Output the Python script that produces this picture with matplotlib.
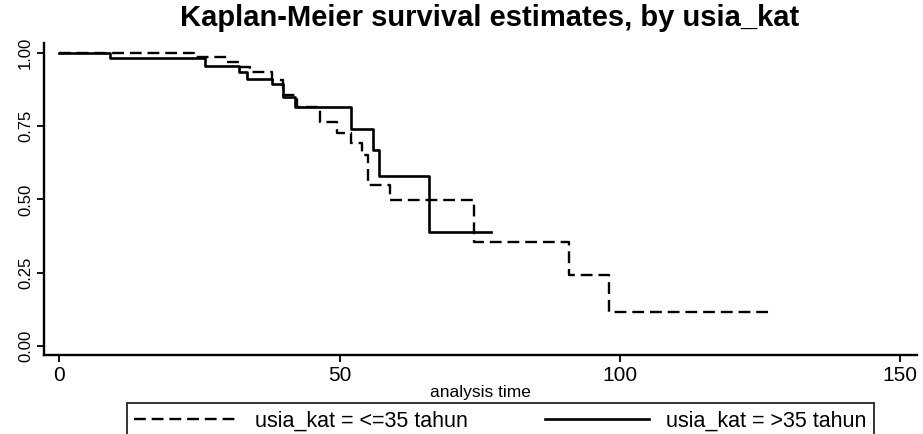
import matplotlib
matplotlib.use("Agg")
import matplotlib.pyplot as plt

plt.rcParams['font.family'] = ['Liberation Sans', 'DejaVu Sans']

title = "Kaplan-Meier survival estimates, by usia_kat"
xlabel = "analysis time"
labels = ["usia_kat = <=35 tahun", "usia_kat = >35 tahun"]

# group <=35 tahun (dashed)
t_young = [0, 24, 30, 32, 34, 38, 40, 42.5, 46.5, 49.5, 52, 54, 55, 59, 74, 91, 98, 127]
s_young = [1.0, 0.985, 0.97, 0.952, 0.935, 0.908, 0.857, 0.816, 0.765, 0.727, 0.693, 0.65, 0.55,
           0.498, 0.355, 0.242, 0.116, 0.116]

# group >35 tahun (solid)
t_old = [0, 9, 26, 32, 33.5, 38, 40, 42, 52, 56, 57, 66, 77]
s_old = [1.0, 0.983, 0.957, 0.935, 0.91, 0.895, 0.85, 0.816, 0.74, 0.67, 0.58, 0.389, 0.389]

xticks = [0, 50, 100, 150]
yticks = [0.0, 0.25, 0.5, 0.75, 1.0]
yticklabels = ["0.00", "0.25", "0.50", "0.75", "1.00"]

fig = plt.figure(figsize=(9.23, 4.34), dpi=100)
ax = fig.add_axes([0.0477, 0.182, 0.9458, 0.719])

l1, = ax.step(t_young, s_young, where='post', color='black', lw=1.7, linestyle=(0, (5, 2.5)))
l2, = ax.step(t_old, s_old, where='post', color='black', lw=1.9, linestyle='-')

ax.set_xlim(-2.7, 153)
ax.set_ylim(-0.031, 1.034)
ax.set_xticks(xticks)
ax.set_xticklabels([str(v) for v in xticks], fontsize=15)
ax.set_yticks(yticks)
ax.set_yticklabels(yticklabels, fontsize=12, rotation=90, va='center')
ax.tick_params(direction='out', length=5, width=1.3, colors='black', pad=3)
for side in ['top', 'right']:
    ax.spines[side].set_visible(False)
for side in ['left', 'bottom']:
    ax.spines[side].set_linewidth(1.7)
ax.set_xlabel(xlabel, fontsize=12.5, labelpad=0)

fig.text(0.53, 0.958, title, ha='center', va='center', fontsize=21, fontweight='bold')

leg = fig.legend([l1, l2], labels, loc='upper center', bbox_to_anchor=(0.542, 0.071),
                 ncol=2, fontsize=15.5, frameon=True, fancybox=False, edgecolor='black',
                 handlelength=4.8, columnspacing=3.6, borderpad=0.35, handletextpad=0.8,
                 borderaxespad=0)
leg.get_frame().set_linewidth(1.4)

fig.savefig("out.png", dpi=100)
